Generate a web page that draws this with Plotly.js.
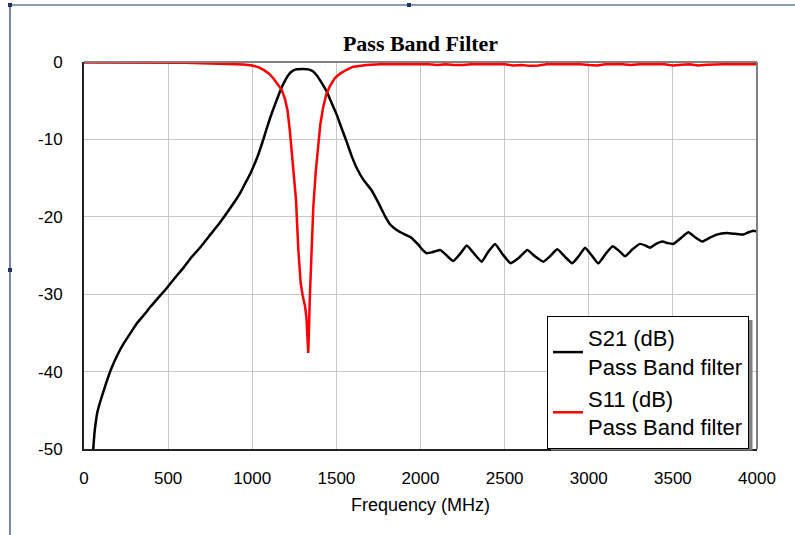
<!DOCTYPE html>
<html>
<head>
<meta charset="utf-8">
<script src="https://cdn.plot.ly/plotly-3.0.1.min.js"></script>
<style>html,body{margin:0;padding:0;background:#fff;}#chart{width:795px;height:535px;}</style>
</head>
<body>
<div id="chart"></div>
<script>
// S21 (dB) Pass Band filter
const s21Freq = [55,62,69,80,99,130,159,200,238,280,317,360,396,440,485,540,594,640,693,740,792,852,900,931,960,991,1030,1060,1080,1105,1135,1165,1190,1214,1240,1264,1300,1333,1360,1383,1410,1442,1470,1502,1530,1561,1590,1621,1660,1710,1750,1789,1820,1858,1900,1938,1965,1987,2010,2037,2066,2096,2116,2136,2160,2195,2235,2275,2320,2364,2400,2443,2490,2536,2585,2635,2680,2730,2770,2813,2860,2902,2940,2978,3018,3057,3100,3142,3180,3216,3260,3305,3335,3364,3400,3439,3470,3503,3550,3592,3635,3675,3720,3760,3820,3870,3918,3950,3978,4000];
const s21dB = [-50,-48,-46.7,-45.2,-43.7,-41.6,-39.8,-37.8,-36.3,-34.9,-33.7,-32.6,-31.6,-30.5,-29.4,-27.9,-26.5,-25.2,-23.9,-22.6,-21.2,-19.4,-17.9,-16.8,-15.6,-14.3,-12.3,-10.4,-9.0,-7.3,-5.5,-3.8,-2.6,-1.7,-1.15,-0.95,-0.92,-0.95,-1.2,-1.7,-2.6,-3.8,-5.2,-6.8,-8.5,-10.3,-12.1,-13.7,-15.2,-16.6,-18.2,-19.9,-21,-21.7,-22.2,-22.6,-23.1,-23.6,-24.2,-24.7,-24.6,-24.4,-24.3,-24.6,-25.1,-25.7,-24.8,-23.7,-24.8,-25.8,-24.6,-23.5,-24.9,-26.0,-25.3,-24.3,-25.1,-25.8,-25.1,-24.2,-25.2,-26.0,-25.1,-24.0,-25.0,-26.0,-24.8,-23.8,-24.4,-25.1,-24.2,-23.5,-23.7,-24.0,-23.5,-23.2,-23.4,-23.5,-22.7,-22.0,-22.7,-23.2,-22.7,-22.3,-22.1,-22.2,-22.3,-22.0,-21.8,-21.9];

// S11 (dB) Pass Band filter
const s11Freq = [0,200,400,600,700,800,900,950,1000,1040,1070,1100,1125,1150,1175,1195,1210,1224,1234,1245,1260,1274,1288,1300,1314,1322,1333,1343,1353,1363,1378,1393,1405,1422,1440,1462,1490,1522,1560,1601,1680,1760,1900,2050,2100,2150,2200,2250,2300,2500,2550,2600,2650,2700,2750,2950,3000,3050,3100,3200,3250,3300,3450,3500,3550,3600,3650,3700,3800,4000];
const s11dB = [-0.05,-0.05,-0.06,-0.1,-0.15,-0.18,-0.25,-0.32,-0.45,-0.7,-1.05,-1.5,-2.1,-2.8,-3.6,-4.8,-6.3,-9.0,-11.4,-14.5,-17.8,-24.3,-28.6,-30.2,-31.6,-33,-37.6,-29.9,-24.3,-18.7,-14.0,-11.0,-8.0,-5.8,-4.2,-3.1,-2.1,-1.5,-1.0,-0.6,-0.4,-0.3,-0.3,-0.3,-0.4,-0.3,-0.4,-0.4,-0.3,-0.3,-0.45,-0.4,-0.5,-0.45,-0.3,-0.3,-0.4,-0.45,-0.3,-0.3,-0.4,-0.3,-0.3,-0.45,-0.35,-0.3,-0.45,-0.35,-0.3,-0.3];

const xTicks = [0,500,1000,1500,2000,2500,3000,3500,4000];
const yTicks = [0,-10,-20,-30,-40,-50];

const traces = [
  {x: s21Freq, y: s21dB, type: 'scatter', mode: 'lines', name: 'S21 (dB)<br>Pass Band filter',
   line: {color: '#000000', width: 2.5, shape: 'spline', smoothing: 0.4}},
  {x: s11Freq, y: s11dB, type: 'scatter', mode: 'lines', name: 'S11 (dB)<br>Pass Band filter',
   line: {color: '#ff0000', width: 2.5}}
];

// pixel helpers for decorations (outer frame)
const L = 84, R = 757, T = 62, B = 449;
const px = v => (v - L) / (R - L);
const py = v => (B - v) / (B - T);

const frameColor = '#1f3566';
const shapes = [
  // top & right plot border (gray)
  {type: 'line', xref: 'paper', yref: 'paper', x0: 0, x1: 1, y0: 1, y1: 1, line: {color: '#808080', width: 2}},
  {type: 'line', xref: 'paper', yref: 'paper', x0: 1, x1: 1, y0: 0, y1: 1, line: {color: '#808080', width: 2}},
  // legend shadow
  {type: 'rect', xref: 'paper', yref: 'paper', x0: px(551), x1: px(752.5), y0: py(450.5), y1: py(320),
   fillcolor: '#808080', line: {width: 0}, layer: 'above'},
  // outer frame lines
  {type: 'line', xref: 'paper', yref: 'paper', x0: px(10), x1: px(10), y0: py(5), y1: py(535), line: {color: frameColor, width: 1.2}},
  {type: 'line', xref: 'paper', yref: 'paper', x0: px(10), x1: px(795), y0: py(5), y1: py(5), line: {color: frameColor, width: 1.2}},
  // selection handles
  {type: 'rect', xref: 'paper', yref: 'paper', x0: px(8), x1: px(12), y0: py(7), y1: py(3), fillcolor: frameColor, line: {width: 0}},
  {type: 'rect', xref: 'paper', yref: 'paper', x0: px(407), x1: px(411), y0: py(7), y1: py(3), fillcolor: frameColor, line: {width: 0}},
  {type: 'rect', xref: 'paper', yref: 'paper', x0: px(8), x1: px(12), y0: py(272), y1: py(268), fillcolor: frameColor, line: {width: 0}}
];

const layout = {
  width: 795, height: 535,
  margin: {l: L, r: 795 - R, t: T, b: 535 - B, pad: 0},
  paper_bgcolor: '#ffffff', plot_bgcolor: '#ffffff',
  font: {family: '"Liberation Sans", Arial, sans-serif', size: 17, color: '#000000'},
  title: {text: '<b>Pass Band Filter</b>', font: {family: '"Liberation Serif", "Times New Roman", serif', size: 22, color: '#000'},
          x: 0.5, xref: 'paper', xanchor: 'center', y: 1 - 43 / 535, yref: 'container', yanchor: 'middle'},
  xaxis: {range: [0, 4000], tickvals: xTicks, ticktext: xTicks.map(String), showgrid: true, gridcolor: '#c8c8c8', gridwidth: 1,
          zeroline: false, showline: true, linecolor: '#222222', linewidth: 2, ticks: '', ticklabelstandoff: 13,
          tickfont: {size: 17},
          title: {text: 'Frequency (MHz)', font: {size: 18}, standoff: 11}},
  yaxis: {range: [-50, 0], tickvals: yTicks, ticktext: yTicks.map(String), showgrid: true, gridcolor: '#c8c8c8', gridwidth: 1,
          zeroline: false, showline: true, linecolor: '#222222', linewidth: 2, ticks: '', ticklabelstandoff: 16,
          tickfont: {size: 17}},
  showlegend: true,
  legend: {x: px(547), y: py(316), xanchor: 'left', yanchor: 'top', xref: 'paper', yref: 'paper',
           bgcolor: '#ffffff', bordercolor: '#000000', borderwidth: 1,
           font: {size: 22, color: '#000'}, itemwidth: 30},
  shapes: shapes
};

Plotly.newPlot('chart', traces, layout, {displayModeBar: false, staticPlot: true});
</script>
</body>
</html>
